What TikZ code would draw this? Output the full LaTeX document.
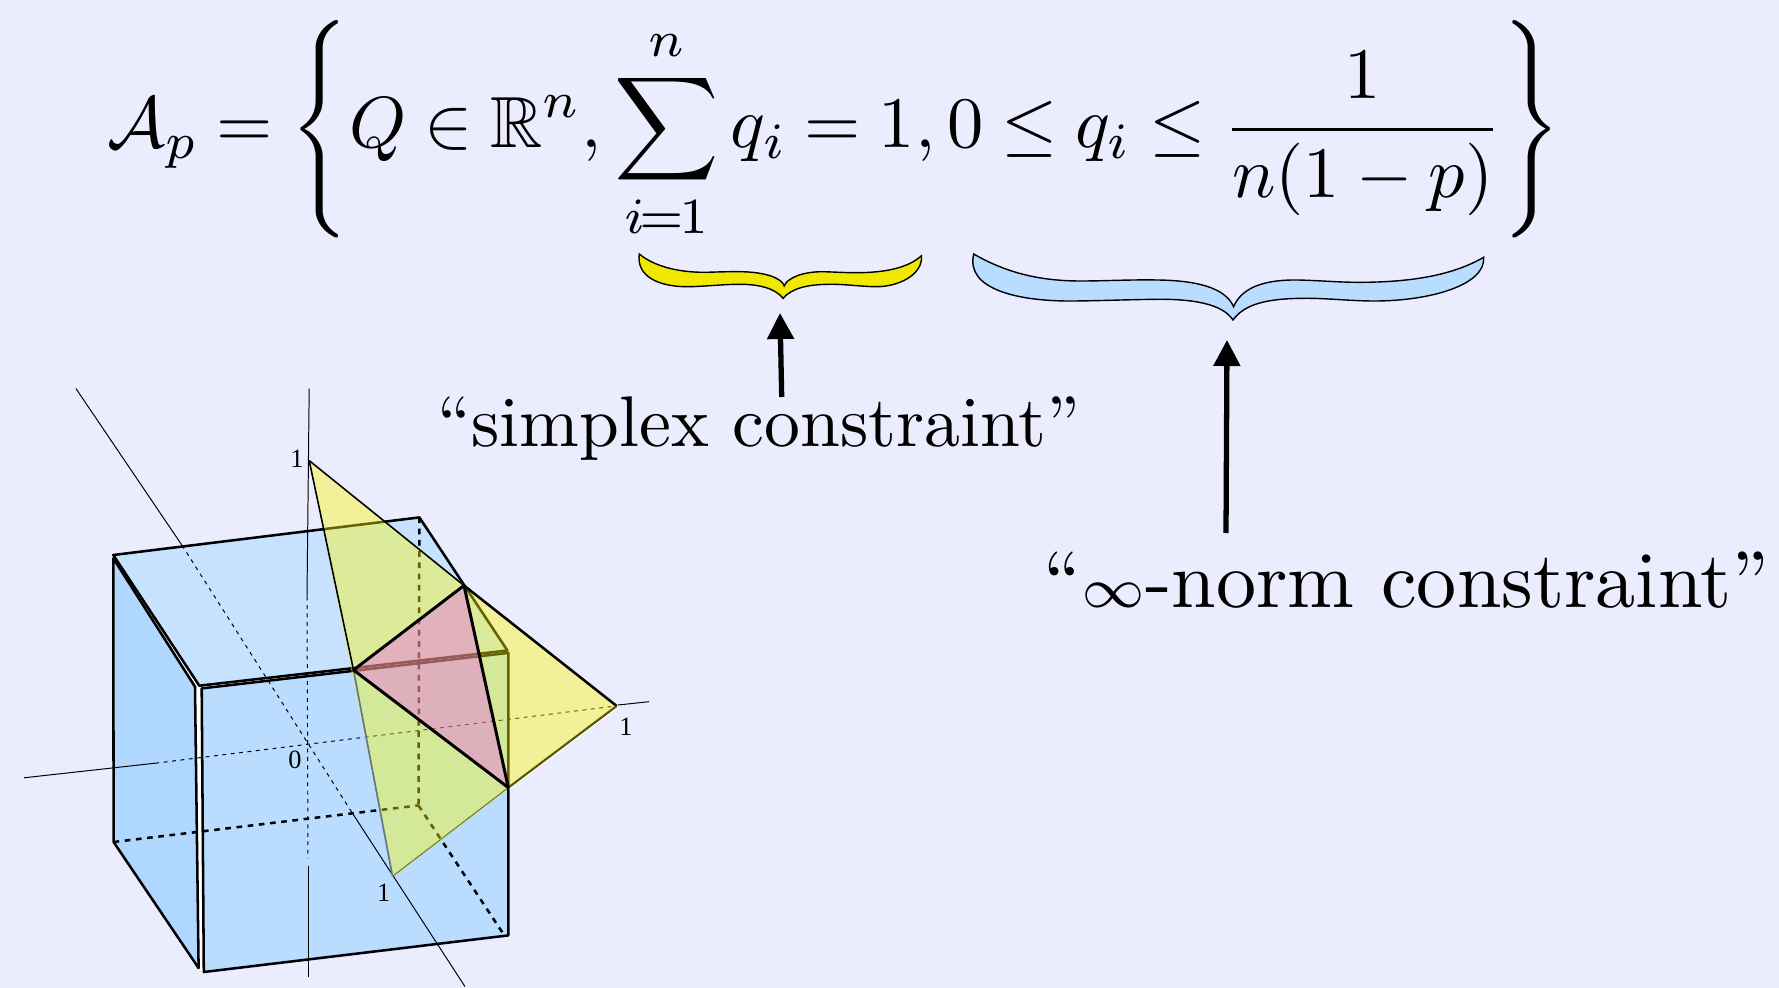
\documentclass[tikz,border=0pt]{standalone}
\usepackage{amssymb}
\usepackage{fontspec}
\newfontfamily\labelfont{Liberation Serif}
\usetikzlibrary{arrows.meta}

\definecolor{pagebg}{RGB}{236,236,255}
\definecolor{topface}{RGB}{198,226,255}
\definecolor{frontface}{RGB}{185,220,255}
\definecolor{leftface}{RGB}{176,215,255}
\definecolor{simplexyellow}{RGB}{253,250,0}
\definecolor{overlappink}{RGB}{240,74,255}
\definecolor{braceyellow}{RGB}{240,232,0}
\definecolor{braceblue}{RGB}{184,221,255}

\tikzset{
  cubeedge/.style={line width=0.72pt, line join=round},
  hiddenedge/.style={line width=0.72pt, dash pattern=on 1.6pt off 1.6pt},
  axisline/.style={line width=0.28pt},
  axisdash/.style={line width=0.28pt, dash pattern=on 1.1pt off 1.3pt},
  bracefill/.style={draw=black, line width=0.4pt, line join=miter},
  callout/.style={line width=1.5pt, -{Triangle[length=7.4pt,width=7.4pt]}},
  ticklabel/.style={font=\labelfont\fontsize{7.5}{8}\selectfont, inner sep=0pt},
}

\begin{document}
\begin{tikzpicture}[x=0.01cm, y=-0.01cm]
  \useasboundingbox (0, 0) rectangle (1779, 988);
  \fill[pagebg] (0, 0) rectangle (1779, 988);

  % coordinates of the cube, one set per face
  \coordinate (TopA) at (113.3, 555);
  \coordinate (TopB) at (419.4, 517.4);
  \coordinate (TopC) at (507.4, 650.5);
  \coordinate (TopD) at (199.3, 685.7);
  \coordinate (FrontA) at (201.7, 688.4);
  \coordinate (FrontB) at (508.3, 652.9);
  \coordinate (FrontC) at (508.3, 935.4);
  \coordinate (FrontD) at (203.8, 972);
  \coordinate (LeftA) at (113.3, 558.3);
  \coordinate (LeftB) at (195, 686.7);
  \coordinate (LeftC) at (198.6, 968);
  \coordinate (LeftD) at (113.6, 842);
  \coordinate (BackFoot) at (418.5, 805.4);

  % coordinates of the simplex
  \coordinate (SimplexTop) at (309.2, 460.6);
  \coordinate (SimplexRight) at (616.7, 706);
  \coordinate (SimplexBottom) at (392.5, 876.3);
  \coordinate (PinkA) at (353.5, 670);
  \coordinate (PinkB) at (464, 585.5);
  \coordinate (PinkC) at (508.3, 787.6);

  % White behind the cube shows in the gaps between the faces
  \fill[white] (TopA) -- (TopC) -- (FrontB) -- (FrontD) -- (LeftC) -- (LeftD) -- (LeftA) -- cycle;

  % Cube faces
  \filldraw[fill=topface, cubeedge] (TopA) -- (TopB) -- (TopC) -- (TopD) -- cycle;
  \filldraw[fill=leftface, cubeedge] (LeftA) -- (LeftB) -- (LeftC) -- (LeftD) -- cycle;
  \filldraw[fill=frontface, cubeedge] (FrontA) -- (FrontB) -- (FrontC) -- (FrontD) -- cycle;

  % Hidden cube edges
  \draw[hiddenedge] (LeftD) -- (BackFoot);
  \draw[hiddenedge] (BackFoot) -- (503, 933.4);
  \draw[hiddenedge] (TopB) -- (BackFoot);

  % Axes, solid outside the cube and dashed inside
  \draw[axisline] (309.2, 388.5) -- (307, 596.6);
  \draw[axisdash] (307, 596.6) -- (308, 858.6);
  \draw[axisline] (308, 865.7) -- (308, 976.8);
  \draw[axisline] (23.9, 777.8) -- (155.3, 763.2);
  \draw[axisdash] (155.3, 763.2) -- (615.9, 706);
  \draw[axisline] (618, 705) -- (649, 701.7);
  \draw[axisline] (75.9, 388.5) -- (182, 545.3);
  \draw[axisdash] (182, 545.3) -- (351, 811);
  \draw[axisline] (351, 811) -- (465, 986.6);

  % The simplex over the cube
  \fill[simplexyellow, fill opacity=0.4] (SimplexTop) -- (SimplexRight) -- (SimplexBottom) -- cycle;
  \draw[line width=0.45pt] (SimplexTop) -- (PinkA);
  \draw[line width=0.5pt, black!45!frontface] (PinkA) -- (SimplexBottom);
  \draw[line width=0.3pt, black!50!simplexyellow] (SimplexBottom) -- (PinkC);
  \draw[line width=0.45pt] (SimplexTop) -- (PinkB);
  \draw[cubeedge] (PinkB) -- (SimplexRight);
  \draw[line width=0.25pt, white] ([shift={(1,1.5)}]PinkC) -- ([shift={(1,1.5)}]SimplexRight);
  \draw[line width=0.6pt, black!65!simplexyellow] (PinkC) -- (SimplexRight);

  % Part of the simplex inside the cube
  \fill[overlappink, fill opacity=0.35] (PinkA) -- (PinkB) -- (PinkC) -- cycle;
  \draw[line width=0.85pt, line join=round] (PinkA) -- (PinkB) -- (PinkC) -- cycle;

  % Tick labels
  \node[ticklabel] (labelTop) at (297, 458.6) {1};
  \node[ticklabel] (labelOrigin) at (295, 760) {0};
  \node[ticklabel] (labelRight) at (626, 726.6) {1};
  \node[ticklabel] (labelBottom) at (383.8, 893) {1};

  % The formula
  \node[scale=2.06, inner sep=0pt] (formula) at (834, 130.5) {\thickmuskip=4.4mu $\displaystyle \mathcal{A}_p = \left\{ Q \in \mathbb{R}^n, \sum_{i\mkern-1.5mu=\mkern-1.5mu1}^n q_i = 1, 0 \le q_i \le \frac{1}{n(1-p)} \right\}$};

  % Braces under the formula
  \filldraw[fill=braceyellow, bracefill] (639.3, 254)
    .. controls (655, 267) and (680, 272.5) .. (705.6, 272.3)
    .. controls (718, 272) and (730, 271.5) .. (740.8, 271.7)
    .. controls (765, 272) and (782, 278) .. (784.2, 286)
    .. controls (787, 278) and (803, 271.5) .. (823, 271.7)
    .. controls (835, 272) and (846, 272.8) .. (858, 272.7)
    .. controls (885, 272.5) and (908, 268) .. (921.5, 255.7)
    .. controls (923, 275) and (898, 287) .. (875.7, 286.7)
    .. controls (860, 286.5) and (845, 284) .. (828.8, 284.3)
    .. controls (808, 284.5) and (792, 288) .. (783, 298.3)
    .. controls (775, 288) and (758, 284) .. (737.9, 284.3)
    .. controls (720, 284.5) and (705, 286.5) .. (688, 286.7)
    .. controls (660, 287) and (636, 277) .. (639.3, 254) -- cycle;
  \filldraw[fill=braceblue, bracefill] (973.7, 254)
    .. controls (1010, 275) and (1045, 281) .. (1081, 281)
    .. controls (1105, 281) and (1130, 279.5) .. (1157.4, 280)
    .. controls (1195, 280.5) and (1225, 287) .. (1233.6, 306.7)
    .. controls (1242, 287) and (1265, 279.5) .. (1298, 280)
    .. controls (1320, 280.5) and (1340, 282.5) .. (1362.7, 282.3)
    .. controls (1405, 282) and (1450, 277) .. (1483.6, 257.3)
    .. controls (1486, 285) and (1430, 301) .. (1374.4, 301)
    .. controls (1350, 301) and (1325, 298) .. (1304, 298.3)
    .. controls (1270, 298.5) and (1245, 303) .. (1233, 320)
    .. controls (1222, 303) and (1190, 299) .. (1157.4, 299.3)
    .. controls (1130, 299.5) and (1095, 301) .. (1069.4, 301)
    .. controls (1020, 301) and (965, 290) .. (973.7, 254) -- cycle;

  % Callouts
  \node[scale=2.04, inner sep=0pt] (simplexnote) at (759, 429) {“simplex constraint”};
  \node[scale=2.28, inner sep=0pt] (normnote) at (1406.5, 580) {“$\scriptstyle\infty$-norm constraint”};
  \coordinate (simplextip) at (780, 313);
  \coordinate (normtip) at (1227, 340);
  \draw[callout] (781.7, 397) -- (simplextip);
  \draw[callout] (1226, 533) -- (normtip);
\end{tikzpicture}
\end{document}
